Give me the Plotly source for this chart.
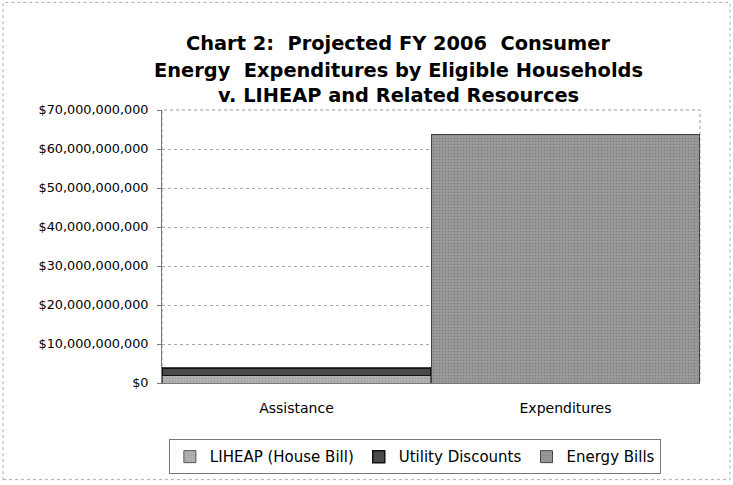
import plotly.graph_objects as go

categories = ["Assistance", "Expenditures"]
liheap = [1.9e9, 0]
utility = [2.0e9, 0]
energy_bills = [0, 63.8e9]
tick_vals = [0, 10e9, 20e9, 30e9, 40e9, 50e9, 60e9, 70e9]
tick_text = ["$0", "$10,000,000,000", "$20,000,000,000", "$30,000,000,000",
             "$40,000,000,000", "$50,000,000,000", "$60,000,000,000", "$70,000,000,000"]
title_lines = ["Chart 2:  Projected FY 2006  Consumer",
               "Energy  Expenditures by Eligible Households",
               "v. LIHEAP and Related Resources"]

fig = go.Figure()
fig.add_trace(go.Bar(x=categories, y=liheap, name="LIHEAP (House Bill)",
                     marker=dict(color="#b4b4b4", line=dict(color="#555", width=1),
                                 pattern=dict(shape=".", fgcolor="#888", size=3, solidity=0.3))))
fig.add_trace(go.Bar(x=categories, y=utility, name="Utility Discounts",
                     marker=dict(color="#4a4a4a", line=dict(color="#111", width=1.5))))
fig.add_trace(go.Bar(x=categories, y=energy_bills, name="Energy Bills",
                     marker=dict(color="#9c9c9c", line=dict(color="#444", width=1),
                                 pattern=dict(shape=".", fgcolor="#6a6a6a", size=3, solidity=0.35))))

fig.update_layout(
    barmode="stack", bargap=0.005,
    width=733, height=485,
    paper_bgcolor="white", plot_bgcolor="white",
    margin=dict(l=162, r=33, t=110, b=101),
    font=dict(family="DejaVu Sans", size=12, color="black"),
    showlegend=True,
    legend=dict(orientation="h", x=0.47, xanchor="center", y=-0.266, yanchor="middle",
                xref="paper", bordercolor="#777", borderwidth=1,
                font=dict(size=15), traceorder="normal", itemwidth=30,
                tracegroupgap=0),
    yaxis=dict(range=[0, 70e9], tickvals=tick_vals, ticktext=tick_text,
               showgrid=True, gridcolor="#aaa", griddash="dot", gridwidth=1,
               showline=True, linecolor="#777", ticks="outside", ticklen=4, tickcolor="#777",
               zeroline=False, tickfont=dict(size=12.8), ticklabelstandoff=6),
    xaxis=dict(showline=True, linecolor="#777", tickfont=dict(size=14), ticks="",
               ticklabelstandoff=12),
)
for line, ypix in zip(title_lines, [43, 70, 95]):
    fig.add_annotation(text="<b>" + line + "</b>", xref="paper", yref="paper",
                       x=(398 - 162) / 538, y=1 + (110 - ypix) / 274,
                       xanchor="center", yanchor="middle", showarrow=False,
                       font=dict(family="DejaVu Sans", size=19.4, color="black"))
fig.add_shape(type="rect", xref="paper", yref="paper", x0=0, x1=1, y0=0, y1=1,
              line=dict(color="#999", width=1, dash="dot"), layer="below")
fig.add_shape(type="rect", xref="paper", yref="paper",
              x0=-159/538, x1=1 + 30/538, y0=-97/274, y1=1 + 108/274,
              line=dict(color="#aaa", width=1, dash="dot"))
fig.write_html("out.html", config={"displayModeBar": False},
               post_script="document.body.style.margin='0';document.body.style.overflow='hidden';")
